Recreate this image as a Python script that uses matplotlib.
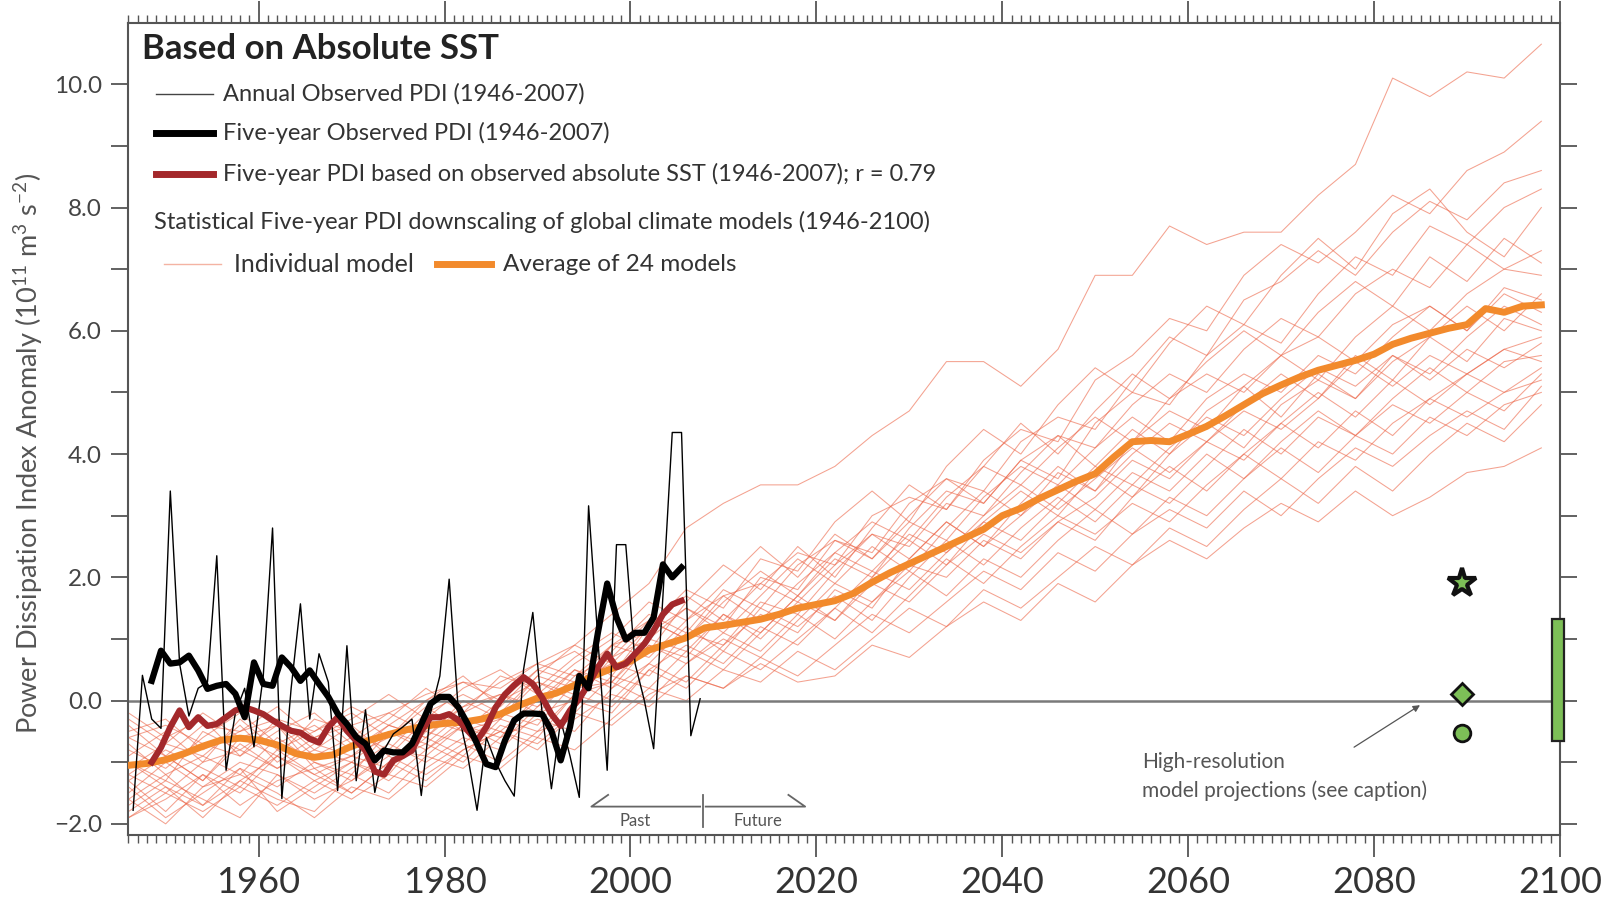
import numpy as np
import matplotlib
matplotlib.use('Agg')
import matplotlib.pyplot as plt
from matplotlib.ticker import FixedLocator, MultipleLocator, FuncFormatter

plt.rcParams['font.family'] = ['Lato', 'DejaVu Sans']
plt.rcParams['mathtext.fontset'] = 'custom'
plt.rcParams['mathtext.rm'] = 'Lato'
plt.rcParams['axes.unicode_minus'] = True

# observed annual PDI anomaly (1946-2007)
annual_years = np.arange(1946, 2008)
annual_pdi = [-1.78, 0.41, -0.30, -0.45, 3.40, 0.60, -0.25, 0.20, 0.30, 2.35,
              -1.13, -0.20, 0.20, -0.75, 0.40, 2.80, -1.59, 0.20, 1.57, -0.30,
              0.76, 0.30, -1.46, 0.89, -1.30, -0.15, -1.49, -0.80, -0.54, -0.43,
              -0.30, -1.54, -0.20, 0.40, 1.97, -0.20, -0.90, -1.78, -0.60, -1.00,
              -1.30, -1.55, 0.50, 1.43, -0.20, -1.43, -0.32, -0.90, -1.57, 3.16,
              1.00, -1.13, 2.53, 2.53, 0.60, 0.00, -0.78, 1.70, 4.35, 4.35,
              -0.57, 0.03]

# five-year running means (centred years 1948-2005)
five_years = np.arange(1948, 2006)
five_obs = [0.32, 0.81, 0.60, 0.62, 0.73, 0.49, 0.19, 0.24, 0.27, 0.11,
            -0.27, 0.62, 0.27, 0.24, 0.70, 0.54, 0.32, 0.49, 0.27, 0.06,
            -0.21, -0.38, -0.59, -0.70, -0.97, -0.81, -0.84, -0.84, -0.70, -0.38,
            -0.05, 0.06, 0.06, -0.11, -0.38, -0.70, -1.03, -1.08, -0.65, -0.32,
            -0.21, -0.21, -0.22, -0.49, -0.97, -0.43, 0.40, 0.20, 1.10, 1.90,
            1.35, 0.99, 1.10, 1.10, 1.35, 2.21, 2.00, 2.16]
five_sst = [-1.00, -0.76, -0.43, -0.16, -0.43, -0.27, -0.41, -0.38, -0.27, -0.16,
            -0.11, -0.16, -0.22, -0.32, -0.41, -0.49, -0.52, -0.62, -0.68, -0.43,
            -0.27, -0.49, -0.65, -0.81, -1.15, -1.20, -0.97, -0.90, -0.81, -0.50,
            -0.27, -0.27, -0.22, -0.32, -0.49, -0.65, -0.43, -0.11, 0.10, 0.25,
            0.38, 0.27, 0.05, -0.22, -0.41, -0.16, 0.03, 0.27, 0.54, 0.76,
            0.54, 0.60, 0.76, 0.92, 1.14, 1.40, 1.56, 1.62]

# average of 24 models
avg_years = np.arange(1946, 2099, 2)
avg_pdi = [-1.05, -1.02, -0.96, -0.86, -0.74, -0.64, -0.61, -0.64, -0.72, -0.86,
           -0.92, -0.88, -0.74, -0.64, -0.55, -0.47, -0.41, -0.37, -0.35, -0.30,
           -0.22, -0.08, 0.04, 0.12, 0.25, 0.40, 0.52, 0.64, 0.82, 0.92,
           1.02, 1.18, 1.22, 1.27, 1.32, 1.40, 1.50, 1.56, 1.62, 1.74,
           1.92, 2.08, 2.22, 2.36, 2.50, 2.64, 2.78, 3.00, 3.12, 3.28,
           3.42, 3.56, 3.68, 3.95, 4.20, 4.22, 4.20, 4.32, 4.45, 4.62,
           4.80, 4.98, 5.12, 5.25, 5.36, 5.44, 5.52, 5.62, 5.78, 5.88,
           5.96, 6.04, 6.10, 6.36, 6.30, 6.40, 6.42]

# individual model downscalings, one row per model
model_years = np.arange(1946, 2099, 4)
model_runs = [
    [-0.6, -0.9, -0.4, -0.5, -0.3, -0.8, -0.4, -0.2, 0.1, 0.3, 0.2, 0.6, 0.9, 1.4, 1.9, 2.8, 3.2, 3.5, 3.5, 3.8,
     4.3, 4.7, 5.5, 5.5, 5.1, 5.7, 6.9, 6.9, 7.7, 7.4, 7.6, 7.6, 8.2, 8.7, 10.1, 9.8, 10.2, 10.1, 10.65],
    [-1.2, -1.5, -1.0, -0.8, -1.1, -0.7, -0.9, -0.4, -0.6, -0.1, 0.1, -0.2, 0.4, 0.7, 1.3, 1.0, 1.7, 1.9, 2.4, 2.2,
     3.0, 3.3, 3.1, 3.9, 4.4, 4.2, 5.2, 5.6, 6.2, 6.0, 6.9, 7.4, 7.1, 7.6, 8.2, 7.9, 8.6, 8.9, 9.4],
    [-0.4, -0.9, -1.3, -0.6, -0.4, -1.1, -0.9, -0.6, -0.1, -0.5, -0.3, 0.3, 0.1, 0.9, 1.1, 1.5, 1.2, 2.0, 1.8, 2.6,
     2.4, 3.2, 3.6, 3.4, 4.2, 4.6, 4.4, 5.2, 5.9, 5.6, 6.5, 6.8, 7.3, 6.9, 7.6, 8.1, 7.8, 8.4, 8.6],
    [-1.6, -1.2, -1.7, -1.1, -1.4, -1.0, -1.3, -0.8, -0.9, -0.4, -0.6, 0.1, 0.2, 0.3, 0.9, 0.7, 1.4, 1.1, 1.7, 2.3,
     2.0, 2.8, 3.4, 3.2, 3.9, 3.6, 4.5, 5.0, 4.8, 5.6, 6.1, 5.8, 6.6, 7.2, 6.9, 7.7, 7.4, 8.0, 8.3],
    [-0.9, -0.5, -1.0, -0.3, -0.8, -0.5, -0.2, -0.6, 0.0, 0.4, -0.1, 0.5, 0.8, 0.4, 1.2, 1.8, 1.5, 2.3, 2.1, 2.9,
     3.4, 2.9, 3.8, 4.4, 4.0, 4.8, 5.4, 5.0, 5.8, 6.4, 6.1, 6.9, 7.5, 7.0, 7.9, 8.3, 7.6, 7.2, 8.0],
    [-1.3, -1.8, -1.2, -1.5, -0.9, -1.3, -1.0, -1.2, -0.5, -0.7, -0.2, -0.4, 0.3, 0.6, 0.4, 1.1, 0.9, 1.6, 1.4, 2.1,
     2.7, 2.5, 3.2, 3.0, 3.7, 4.3, 4.1, 4.8, 5.3, 5.0, 5.7, 6.2, 5.9, 6.6, 7.0, 6.7, 7.4, 7.0, 7.3],
    [-0.2, -0.6, -0.3, -0.9, -0.5, -0.2, -0.7, -0.3, 0.2, -0.2, 0.4, 0.2, 0.7, 1.1, 0.8, 1.6, 2.2, 1.8, 2.5, 2.0,
     2.8, 3.5, 3.1, 3.8, 4.5, 4.0, 4.7, 5.3, 4.9, 5.5, 6.0, 5.6, 6.3, 6.8, 6.4, 7.2, 6.8, 7.5, 7.1],
    [-1.8, -1.4, -1.9, -1.3, -1.6, -1.8, -1.2, -1.5, -0.9, -1.1, -0.6, -0.3, -0.5, 0.2, 0.6, 0.3, 0.9, 1.4, 1.1, 1.8,
     1.5, 2.3, 2.9, 2.5, 3.2, 3.8, 3.4, 4.2, 4.7, 4.4, 5.1, 5.6, 5.2, 5.9, 6.4, 6.0, 6.6, 7.0, 6.9],
    [-0.8, -1.1, -0.6, -0.2, -0.7, -0.4, -0.8, -0.4, -0.6, 0.0, -0.3, 0.4, 0.2, 0.8, 1.4, 1.1, 1.8, 1.5, 2.2, 2.6,
     2.3, 2.9, 2.6, 3.3, 3.8, 3.5, 4.1, 4.6, 4.2, 4.9, 5.3, 5.0, 5.6, 5.3, 5.9, 6.4, 6.0, 6.6, 6.3],
    [-1.5, -1.0, -1.4, -1.0, -1.2, -1.5, -1.1, -0.7, -1.0, -0.6, -0.8, -0.2, 0.0, -0.2, 0.5, 0.9, 0.6, 1.2, 0.9, 1.5,
     2.1, 1.8, 2.4, 2.9, 2.6, 3.2, 3.8, 3.5, 4.1, 4.6, 4.3, 4.9, 5.4, 5.1, 5.6, 5.3, 5.9, 6.4, 6.1],
    [-1.1, -0.7, -0.9, -0.4, -1.0, -0.6, -0.4, -0.9, -0.3, -0.5, 0.0, 0.3, 0.0, 0.7, 1.0, 0.8, 1.4, 1.0, 1.6, 1.3,
     2.0, 2.6, 2.2, 2.9, 3.4, 3.0, 3.7, 3.3, 4.0, 4.5, 4.1, 4.8, 5.2, 4.9, 5.5, 5.9, 5.5, 6.2, 6.0],
    [-1.9, -1.6, -1.2, -1.7, -1.3, -1.1, -1.5, -1.0, -0.7, -1.0, -0.4, -0.6, 0.1, 0.3, 0.0, 0.6, 1.0, 0.7, 1.3, 1.9,
     1.6, 2.2, 2.0, 2.6, 2.3, 2.9, 3.3, 3.9, 3.6, 4.2, 4.7, 4.4, 4.9, 5.5, 5.1, 5.6, 5.3, 5.7, 5.9],
    [-0.5, -0.3, -0.8, -0.5, -0.1, -0.6, -0.3, 0.1, -0.3, 0.2, 0.5, 0.1, 0.6, 1.0, 1.6, 1.3, 1.9, 2.5, 2.0, 2.7,
     2.3, 3.0, 3.6, 3.2, 3.9, 4.3, 3.8, 4.4, 4.0, 4.7, 5.1, 4.6, 5.3, 4.9, 5.6, 5.2, 5.7, 5.4, 5.8],
    [-1.4, -1.9, -1.5, -1.1, -1.8, -1.4, -1.0, -1.3, -0.8, -0.4, -0.7, -0.1, 0.3, 0.0, 0.6, 1.2, 0.8, 1.5, 1.2, 1.7,
     1.3, 2.0, 2.6, 2.2, 2.8, 3.3, 2.9, 3.5, 3.2, 3.8, 4.4, 4.0, 4.6, 4.3, 4.9, 5.4, 5.0, 5.5, 5.6],
    [-1.0, -1.3, -0.5, -0.8, -0.4, -0.9, -0.6, -0.2, -0.5, -0.1, 0.3, 0.6, 0.4, 0.9, 0.7, 1.3, 1.7, 1.3, 1.9, 2.4,
     2.1, 2.7, 2.4, 3.0, 3.5, 3.1, 3.6, 4.1, 3.7, 4.2, 3.9, 4.5, 5.0, 4.6, 5.2, 4.8, 5.3, 5.7, 5.5],
    [-1.7, -1.3, -1.6, -1.9, -1.2, -1.6, -1.3, -0.9, -1.2, -0.8, -0.5, -0.8, -0.2, 0.4, 0.2, 0.8, 0.5, 1.1, 1.7, 1.3,
     1.9, 1.6, 2.2, 2.7, 2.4, 2.9, 2.6, 3.3, 3.8, 3.4, 4.0, 4.5, 4.1, 4.7, 4.3, 4.9, 5.3, 5.0, 5.4],
    [-0.3, -0.7, -0.2, -0.6, -0.9, -0.3, -0.5, -0.8, -0.2, 0.1, -0.2, 0.4, 0.9, 0.6, 1.2, 1.7, 1.3, 1.9, 1.6, 2.2,
     2.7, 2.3, 2.9, 2.5, 3.0, 3.5, 3.1, 3.7, 3.4, 4.0, 3.6, 4.2, 4.7, 4.3, 4.8, 4.5, 5.0, 4.7, 5.3],
    [-1.2, -0.8, -1.1, -1.4, -0.8, -1.2, -0.9, -1.1, -0.6, -0.9, -0.3, -0.5, 0.1, -0.1, 0.5, 0.2, 0.8, 0.5, 1.0, 1.5,
     1.1, 1.7, 2.3, 1.9, 2.5, 3.0, 2.7, 3.2, 2.9, 3.5, 4.0, 3.6, 4.2, 3.9, 4.5, 4.9, 4.6, 5.0, 5.2],
    [-1.6, -2.0, -1.4, -1.2, -1.5, -1.9, -1.4, -1.6, -1.1, -0.7, -1.0, -0.5, -0.3, 0.1, -0.1, 0.4, 0.2, 0.7, 0.4, 0.9,
     1.4, 1.1, 1.6, 2.1, 1.8, 2.4, 2.1, 2.7, 3.1, 2.8, 3.4, 3.0, 3.6, 4.1, 3.8, 4.3, 4.7, 4.4, 5.1],
    [-0.7, -1.2, -0.9, -1.2, -0.6, -1.0, -1.2, -0.5, -0.8, -0.3, -0.5, 0.0, 0.5, 0.2, 0.9, 0.6, 1.1, 0.8, 1.4, 1.0,
     1.6, 2.1, 1.7, 2.3, 2.0, 2.6, 3.1, 2.7, 3.3, 3.0, 3.6, 4.1, 3.7, 4.3, 4.0, 4.6, 4.3, 4.8, 5.0],
    [-1.3, -0.9, -1.3, -0.7, -1.1, -0.8, -1.0, -0.5, -0.7, -0.2, 0.1, -0.1, 0.5, 0.3, 1.0, 1.5, 1.1, 1.7, 2.3, 1.9,
     2.5, 2.1, 2.8, 3.4, 3.0, 3.7, 3.4, 4.0, 4.5, 4.2, 4.8, 5.3, 4.9, 5.6, 5.2, 5.9, 6.4, 6.0, 6.6],
    [-1.9, -1.5, -1.8, -1.4, -1.7, -1.3, -1.6, -1.2, -1.4, -0.9, -1.1, -0.6, -0.8, -0.3, 0.2, 0.0, 0.5, 0.3, 0.8, 0.5,
     1.0, 1.5, 1.2, 1.8, 1.5, 2.0, 2.5, 2.2, 2.8, 2.5, 3.1, 3.6, 3.2, 3.8, 3.4, 4.0, 4.5, 4.2, 4.8],
    [-1.0, -1.4, -1.7, -1.3, -0.9, -1.2, -1.5, -1.0, -1.3, -0.8, -0.5, -0.7, -0.2, -0.4, 0.1, 0.4, 0.2, 0.6, 0.3, 0.4,
     0.9, 0.7, 1.2, 1.6, 1.3, 1.9, 1.6, 2.2, 2.6, 2.3, 2.8, 3.2, 2.9, 3.4, 3.0, 3.3, 3.7, 3.8, 4.1],
    [-0.6, -0.4, -0.7, -0.9, -0.3, -0.5, -0.1, -0.4, 0.0, 0.3, 0.0, 0.5, 0.3, 0.9, 1.3, 1.0, 1.6, 2.1, 1.7, 2.4,
     2.9, 2.6, 3.3, 3.8, 3.5, 4.1, 4.6, 4.2, 4.9, 5.3, 5.0, 5.6, 5.9, 5.5, 6.1, 6.4, 6.0, 6.7, 6.5],
]

# high-resolution model projections (markers) and their range (bar)
hires_year = 2089.5
hires_star, hires_diamond, hires_circle = 1.90, 0.11, -0.52
range_low, range_high = -0.65, 1.32

GREEN = '#7dbf57'
fig = plt.figure(figsize=(16.12, 9.01), dpi=100)
ax = fig.add_axes([0.0797, 0.0733, 0.888, 0.9016])

for run in model_runs:
    ax.plot(model_years, run, color='#ec6446', lw=0.75, alpha=0.6, zorder=1)
ax.axhline(0, color='#7a7a7a', lw=1.8, zorder=2)
ax.plot(avg_years, avg_pdi, color='#f28a2c', lw=5, zorder=3)
ax.plot(annual_years + 0.5, annual_pdi, color='black', lw=1.0, zorder=4)
ax.plot(five_years + 0.5, five_sst, color='#a3282b', lw=4.5, zorder=5)
ax.plot(five_years + 0.5, five_obs, color='black', lw=4.5, zorder=6)

ax.plot(hires_year, hires_star, marker='*', ms=21, mfc=GREEN, mec='#111', mew=3, zorder=7)
ax.plot(hires_year, hires_diamond, marker='D', ms=11, mfc=GREEN, mec='#111', mew=2, zorder=7)
ax.plot(hires_year, hires_circle, marker='o', ms=12, mfc=GREEN, mec='#111', mew=2, zorder=7)
ax.bar(2099.8, range_high - range_low, bottom=range_low, width=1.3, color=GREEN,
       edgecolor='#222', lw=1.6, zorder=7, clip_on=False)

ax.set_xlim(1946, 2100)
ax.set_ylim(-2.18, 11.0)

# past / future bracket
gc = '#666666'
ax.plot([1997.6, 1995.8, 2007.5], [-1.53, -1.72, -1.72], color=gc, lw=1.3)
ax.plot([2008.1, 2017.0, 2018.8, 2017.0], [-1.72, -1.72, -1.72, -1.53], color=gc, lw=1.3)
ax.plot([2007.8, 2007.8], [-1.53, -2.05], color=gc, lw=1.3)
ax.text(2000.5, -1.95, 'Past', ha='center', va='center', fontsize=12, color='#555')
ax.text(2013.7, -1.95, 'Future', ha='center', va='center', fontsize=12, color='#555')

# annotation for high-res projections
ax.annotate('', xy=(2085.2, -0.05), xytext=(2077.6, -0.78),
            arrowprops=dict(arrowstyle='-|>', color='#555', lw=0.9, mutation_scale=10))
ax.text(2055.0, -1.0, 'High-resolution', fontsize=15, color='#555', va='center')
ax.text(2055.0, -1.46, 'model projections (see caption)', fontsize=15, color='#555', va='center')

# legend block drawn by hand
T = ax.transAxes
ax.text(0.0093, 0.968, 'Based on Absolute SST', transform=T, fontsize=25, fontweight='bold',
        color='#222', va='center')
lc = '#333'
fs = 17
ax.plot([0.0194, 0.0589], [0.9127, 0.9127], transform=T, color='#444', lw=1.0)
ax.text(0.0661, 0.9127, 'Annual Observed PDI (1946-2007)', transform=T, fontsize=fs, color=lc, va='center')
ax.plot([0.0194, 0.0589], [0.8646, 0.8646], transform=T, color='black', lw=5)
ax.text(0.0661, 0.8646, 'Five-year Observed PDI (1946-2007)', transform=T, fontsize=fs, color=lc, va='center')
ax.plot([0.0194, 0.0589], [0.8139, 0.8139], transform=T, color='#a3282b', lw=5)
ax.text(0.0661, 0.8139, 'Five-year PDI based on observed absolute SST (1946-2007); r = 0.79',
        transform=T, fontsize=fs, color=lc, va='center')
ax.text(0.018, 0.7544, 'Statistical Five-year PDI downscaling of global climate models (1946-2100)',
        transform=T, fontsize=fs, color=lc, va='center')
ax.plot([0.0251, 0.0647], [0.7025, 0.7025], transform=T, color='#f4b3a3', lw=1.0)
ax.text(0.074, 0.7025, 'Individual model', transform=T, fontsize=fs + 1, color=lc, va='center')
ax.plot([0.2155, 0.2536], [0.7025, 0.7025], transform=T, color='#f28a2c', lw=5)
ax.text(0.2615, 0.7025, 'Average of 24 models', transform=T, fontsize=fs + 0.5, color=lc, va='center')

# axes styling
for s in ax.spines.values():
    s.set_color('#555')
    s.set_linewidth(1.5)
ax.xaxis.set_major_locator(FixedLocator([1960, 1980, 2000, 2020, 2040, 2060, 2080, 2100]))
ax.xaxis.set_minor_locator(MultipleLocator(1))
ax.yaxis.set_major_locator(FixedLocator(np.arange(-2, 11, 1)))
ax.yaxis.set_major_formatter(FuncFormatter(
    lambda v, p: ('%.1f' % v).replace('-', '\u2212') if round(v) % 2 == 0 else ''))
ax.tick_params(axis='x', which='major', direction='out', length=16, width=1.3, color='#555',
               top=True, labelsize=26, labelcolor='#333', pad=6)
ax.tick_params(axis='x', which='minor', direction='out', length=6, width=1.0, color='#555', top=True)
ax.tick_params(axis='y', which='major', direction='out', length=12, width=1.3, color='#555',
               right=True, labelsize=17.5, labelcolor='#444', pad=7)

ax.set_ylabel('Power Dissipation Index Anomaly (10$^{11}$ m$^{3}$ s$^{-2}$)', fontsize=19.5, color='#555')
ax.yaxis.set_label_coords(-0.058, 0.47)

fig.savefig('out.png', dpi=100)
